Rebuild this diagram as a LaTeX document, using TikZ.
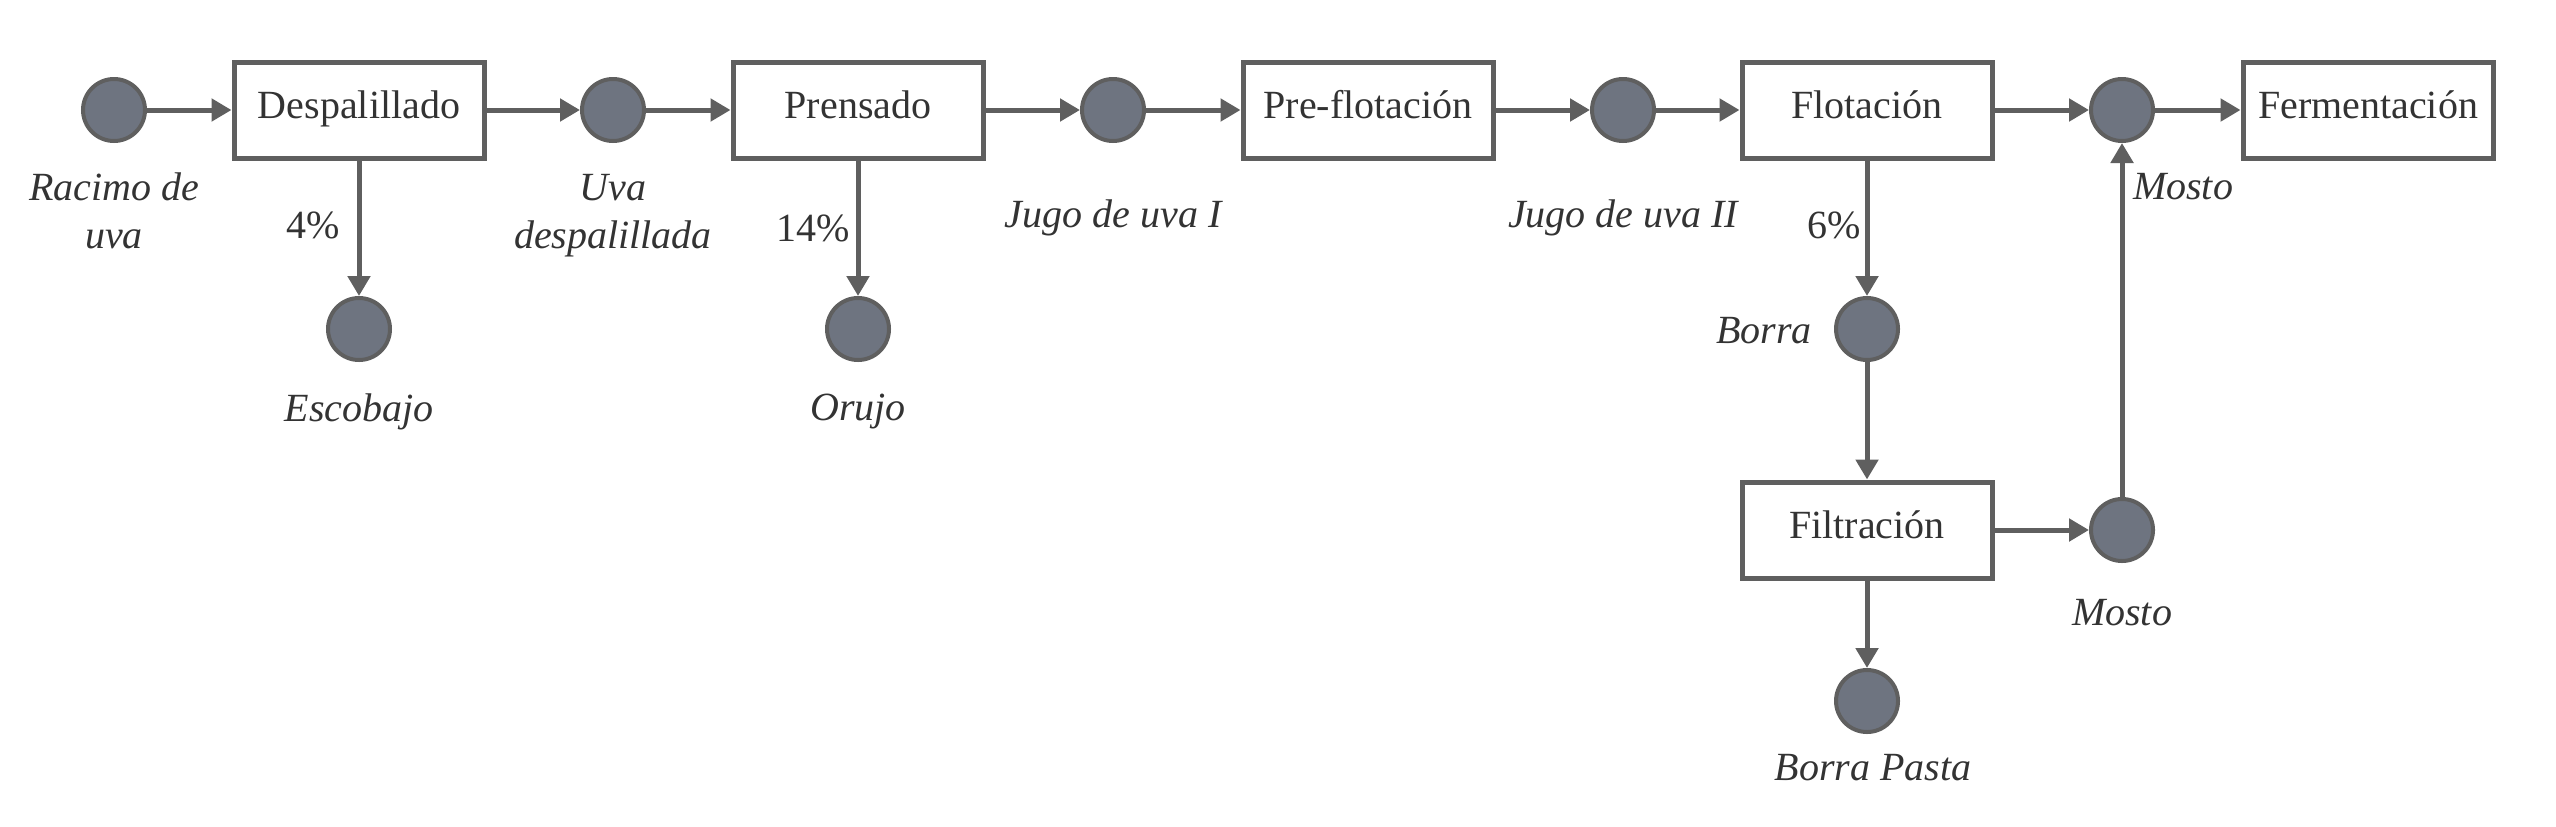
\documentclass[tikz,border=0pt]{standalone}
\usepackage{fontspec}
\setmainfont{Liberation Serif}
\usetikzlibrary{arrows.meta}
\definecolor{linegray}{HTML}{5F5F5F}
\definecolor{dotfill}{HTML}{6E7480}
\definecolor{txtgray}{HTML}{333333}
\begin{document}
\begin{tikzpicture}[x=0.25pt, y=0.25pt,
        proc/.style={draw=linegray, line width=1.25pt, minimum width=62.5pt, minimum height=24pt, inner sep=0pt, text height=7pt, text depth=3pt, text=txtgray, font=\fontsize{10}{12}\selectfont},
        dot/.style={circle, draw=linegray, fill=dotfill, line width=1pt, minimum size=15.5pt, inner sep=0pt},
        lab/.style={text=txtgray, font=\fontsize{10}{12}\selectfont\itshape, align=center},
        pct/.style={text=txtgray, font=\fontsize{10}{12}\selectfont},
        flow/.style={draw=linegray, line width=1.25pt, -{Triangle[length=5pt,width=5.5pt]}}]
        \useasboundingbox (0,0) rectangle (2556,-826);
        % main line
        \node [dot] (0) at (114,-110) {};
        \node [proc] (1) at (359,-110) {Despalillado};
        \node [dot] (2) at (613,-110) {};
        \node [proc] (3) at (858,-110) {Prensado};
        \node [dot] (4) at (1113,-110) {};
        \node [proc] (5) at (1368,-110) {Pre-flotación};
        \node [dot] (6) at (1623,-110) {};
        \node [proc] (7) at (1867,-110) {Flotación};
        \node [dot] (8) at (2122,-110) {};
        \node [proc] (9) at (2368,-110) {Fermentación};
        % side streams
        \node [dot] (10) at (359,-329) {};
        \node [dot] (11) at (858,-329) {};
        \node [dot] (12) at (1867,-329) {};
        \node [proc] (13) at (1867,-530) {Filtración};
        \node [dot] (14) at (2122,-530) {};
        \node [dot] (15) at (1867,-701) {};
        % labels
        \node [lab] (16) at (114,-211) {Racimo de\\uva};
        \node [lab] (17) at (613,-216) {Uva\\despalillada};
        \node [lab] (18) at (1113,-218) {Jugo de uva I};
        \node [lab] (19) at (1623,-218) {Jugo de uva II};
        \node [lab] (20) at (359,-412) {Escobajo};
        \node [lab] (21) at (858,-412) {Orujo};
        \node [lab] (22) at (1764,-331) {Borra};
        \node [lab] (23) at (2183,-187) {Mosto};
        \node [lab] (24) at (2122,-613) {Mosto};
        \node [lab] (25) at (1873,-768) {Borra Pasta};
        \node [pct] (26) at (313,-225) {4\%};
        \node [pct] (27) at (813,-228) {14\%};
        \node [pct] (28) at (1834,-225) {6\%};
        % connectors
        \draw [flow] (0) -- (1);
        \draw [flow] (1) -- (2);
        \draw [flow] (2) -- (3);
        \draw [flow] (3) -- (4);
        \draw [flow] (4) -- (5);
        \draw [flow] (5) -- (6);
        \draw [flow] (6) -- (7);
        \draw [flow] (7) -- (8);
        \draw [flow] (8) -- (9);
        \draw [flow] (1) -- (10);
        \draw [flow] (3) -- (11);
        \draw [flow] (7) -- (12);
        \draw [flow] (12) -- (13);
        \draw [flow] (13) -- (15);
        \draw [flow] (13) -- (14);
        \draw [flow] (14) -- (8);
\end{tikzpicture}
\end{document}
